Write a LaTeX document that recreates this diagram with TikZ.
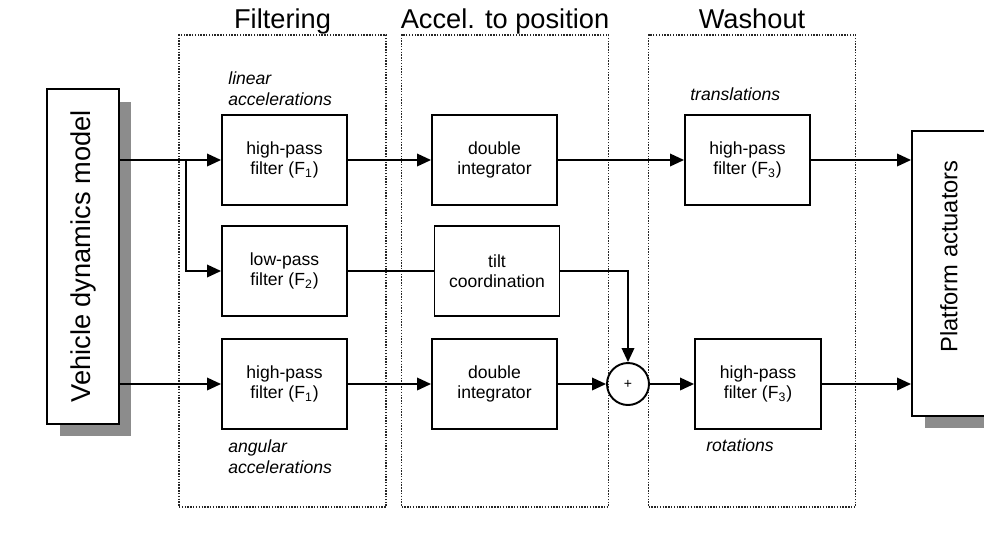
\documentclass[tikz,border=0pt]{standalone}
\usepackage{fontspec}
\setmainfont{Liberation Sans}
\usetikzlibrary{arrows.meta,shadows}

\begin{document}
\begin{tikzpicture}[
  x=0.02cm, y=-0.02cm,
  blk/.style={draw, fill=white, line width=1.1pt, align=center, inner sep=2pt,
              minimum width=2.5cm, minimum height=1.8cm,
              font=\fontsize{10}{11.5}\selectfont},
  side/.style={draw, fill=white, line width=1.1pt, inner sep=0pt,
               minimum width=1.44cm,
               drop shadow={shadow xshift=0.25cm, shadow yshift=-0.25cm,
                            fill=black!45, opacity=1}},
  stage/.style={draw=black!85, line width=0.65pt, dash pattern=on 0.8pt off 0.8pt,
                minimum width=4.14cm, minimum height=9.44cm},
  head/.style={font=\fontsize{15.5}{18}\selectfont, anchor=south,
               inner sep=1pt, text depth=0.22em},
  lab/.style={font=\fontsize{10}{12}\selectfont\itshape, align=left,
              inner sep=0pt, anchor=north west},
  sig/.style={line width=1.1pt, -{Triangle[length=0.28cm, width=0.25cm]}},
  wire/.style={line width=1.1pt}
]
\useasboundingbox (0,0) rectangle (984,559);

% ── stage frames and headings ────────────────────────────────────────
\node[stage] (filt) at (282.5,271) {};
\node[stage] (acc)  at (505,271)   {};
\node[stage] (wash) at (752,271)   {};
\node[head] (filthead) at (filt.north) {Filtering};
\node[head] (acchead)  at (acc.north)  {Accel. to position};
\node[head] (washhead) at (wash.north) {Washout};

% ── model and actuators ──────────────────────────────────────────────
\node[side, minimum height=6.7cm, font=\fontsize{15.5}{18}\selectfont]
      (vdm) at (83,256.5) {\rotatebox{90}{Vehicle dynamics model}};
\node[side, minimum width=1.48cm, minimum height=5.7cm,
      font=\fontsize{13.5}{16}\selectfont]
      (act) at (949,273.5) {\rotatebox{90}{\hspace{0.68cm}Platform actuators}};

% ── filtering ────────────────────────────────────────────────────────
\node[blk] (hpf1)  at (284.5,160) {high-pass\\filter (F\textsubscript{1})};
\node[blk] (lpf2)  at (284.5,271) {low-pass\\filter (F\textsubscript{2})};
\node[blk] (hpf1b) at (284.5,384) {high-pass\\filter (F\textsubscript{1})};
\node[lab] (linlab) at (228,71)  {linear\\accelerations};
\node[lab] (anglab) at (228,439) {angular\\accelerations};

% ── acceleration to position ─────────────────────────────────────────
\node[blk] (dint1) at (494.5,160) {double\\integrator};
\node[blk] (tilt)  at (497,271)   {tilt\\coordination};
\node[blk] (dint2) at (494.5,384) {double\\integrator};
\node[circle, draw, line width=1.1pt, minimum size=0.84cm, inner sep=0pt,
      font=\fontsize{8}{8}\selectfont] (sum) at (628,384) {+};

% ── washout ──────────────────────────────────────────────────────────
\node[blk] (hpf3t) at (747.5,160) {high-pass\\filter (F\textsubscript{3})};
\node[blk, minimum width=2.52cm] (hpf3r) at (758,384)
      {high-pass\\filter (F\textsubscript{3})};
\node[lab] (translab) at (690,87)  {translations};
\node[lab] (rotlab)   at (706,438) {rotations};

% ── signal flow ──────────────────────────────────────────────────────
\coordinate (fork) at (186,160);
\draw[sig] (vdm.east |- hpf1) -- (hpf1);
\draw[sig] (fork) |- (lpf2);
\draw[sig] (vdm.east |- hpf1b) -- (hpf1b);
\draw[sig] (hpf1) -- (dint1);
\draw[sig] (dint1) -- (hpf3t);
\draw[sig] (hpf3t) -- (act.west |- hpf3t);
\draw[wire] (lpf2) -- (tilt);
\draw[sig] (tilt) -| (sum);
\draw[sig] (hpf1b) -- (dint2);
\draw[sig] (dint2) -- (sum);
\draw[sig] (sum) -- (hpf3r);
\draw[sig] (hpf3r) -- (act.west |- hpf3r);

\end{tikzpicture}
\end{document}
